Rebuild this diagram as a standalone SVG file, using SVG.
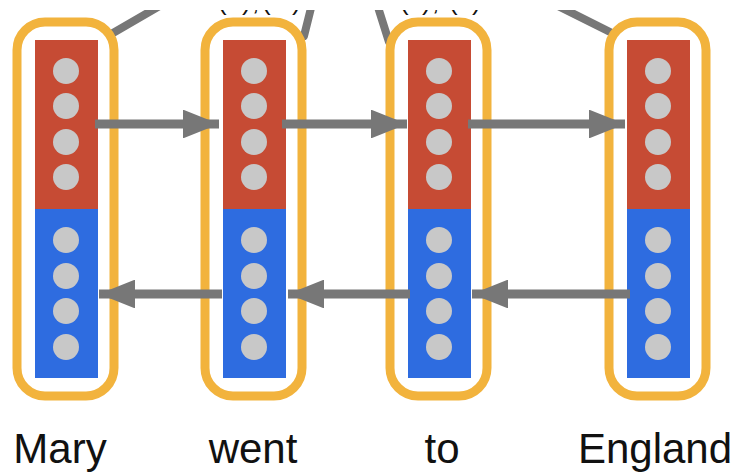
<svg xmlns="http://www.w3.org/2000/svg" width="736" height="472" viewBox="0 0 736 472">
  <defs>
    <style>
      .frame { fill: none; stroke: #f2b33d; stroke-width: 9; }
      .fwd { fill: #c64b34; }
      .bwd { fill: #2e6ce0; }
      .unit { fill: #c8c8c8; }
      .link { stroke: #777777; stroke-width: 9; fill: none; }
      .up { stroke: #777777; stroke-width: 8; fill: none; stroke-linecap: round; }
      .word { font-family: "Liberation Sans", Arial, sans-serif; font-size: 42px; fill: #111111; text-anchor: middle; }
      .top { font-family: "Liberation Sans", Arial, sans-serif; font-size: 26px; fill: #111111; }
    </style>
    <marker id="head" viewBox="0 0 10 8" refX="10" refY="4" markerWidth="4" markerHeight="3.2" markerUnits="strokeWidth" orient="auto">
      <path d="M0,0 L10,4 L0,8 Z" fill="#777777"/>
    </marker>
    <g id="cell">
      <rect class="frame" x="-49" y="22" width="97" height="374" rx="28"/>
      <rect class="fwd" x="-31" y="40" width="63" height="169"/>
      <rect class="bwd" x="-31" y="209" width="63" height="169"/>
      <circle class="unit" cx="0" cy="71" r="13"/>
      <circle class="unit" cx="0" cy="106" r="13"/>
      <circle class="unit" cx="0" cy="142" r="13"/>
      <circle class="unit" cx="0" cy="177" r="13"/>
      <circle class="unit" cx="0" cy="240" r="13"/>
      <circle class="unit" cx="0" cy="276" r="13"/>
      <circle class="unit" cx="0" cy="311" r="13"/>
      <circle class="unit" cx="0" cy="347" r="13"/>
    </g>
    <clipPath id="view">
      <rect x="0" y="10" width="736" height="462"/>
    </clipPath>
  </defs>

  <rect width="736" height="472" fill="#ffffff"/>

  <!-- upward links and the output terms above the frame -->
  <g id="outputs" clip-path="url(#view)">
    <line class="up" x1="113" y1="33" x2="163" y2="4"/>
    <line class="up" x1="304" y1="36" x2="312" y2="4"/>
    <line class="up" x1="389" y1="42" x2="377" y2="4"/>
    <line class="up" x1="612" y1="33" x2="554" y2="4"/>
    <text class="top" x="218 242 252 262 292" y="9.5">(),()</text>
    <text class="top" x="400 422 432 449 472" y="9.5">(),()</text>
  </g>

  <g id="node-mary"><use href="#cell" x="66"/></g>
  <g id="node-went"><use href="#cell" x="254"/></g>
  <g id="node-to"><use href="#cell" x="439"/></g>
  <g id="node-england"><use href="#cell" x="658"/></g>

  <g id="connectors">
    <!-- forward direction -->
    <line class="link" x1="95" y1="124" x2="219" y2="124" marker-end="url(#head)"/>
    <line class="link" x1="282" y1="124" x2="407" y2="124" marker-end="url(#head)"/>
    <line class="link" x1="468" y1="124" x2="625" y2="124" marker-end="url(#head)"/>
    <!-- backward direction -->
    <line class="link" x1="630" y1="294" x2="472" y2="294" marker-end="url(#head)"/>
    <line class="link" x1="410" y1="294" x2="288" y2="294" marker-end="url(#head)"/>
    <line class="link" x1="222" y1="294" x2="99" y2="294" marker-end="url(#head)"/>
  </g>

  <g id="labels">
    <text class="word" x="60" y="463">Mary</text>
    <text class="word" x="253" y="463">went</text>
    <text class="word" x="442" y="463">to</text>
    <text class="word" x="655" y="463">England</text>
  </g>
</svg>
